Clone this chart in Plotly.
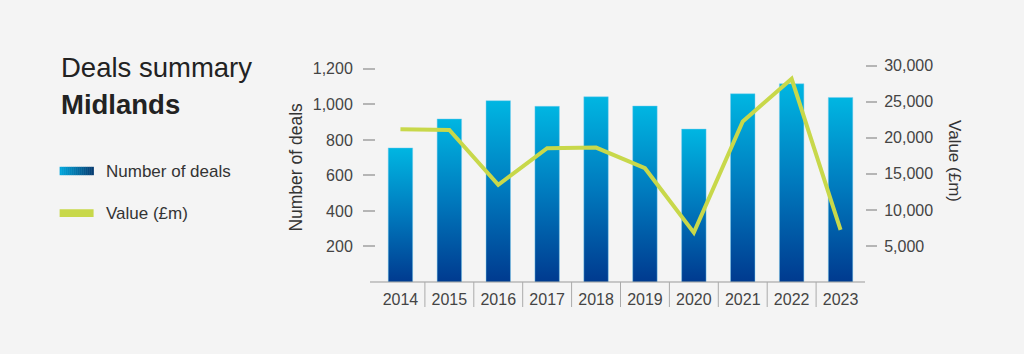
import plotly.graph_objects as go

# ---- data ----
years = ["2014", "2015", "2016", "2017", "2018", "2019", "2020", "2021", "2022", "2023"]
deals = [755, 918, 1021, 989, 1043, 991, 861, 1060, 1116, 1039]
value_gbp_m = [21200, 21100, 13470, 18570, 18650, 15790, 6850, 22270, 28190, 7220]
left_ticks = [200, 400, 600, 800, 1000, 1200]
right_ticks = [5000, 10000, 15000, 20000, 25000, 30000]

# ---- styles ----
FONT = "Liberation Sans, Arial, Helvetica, sans-serif"
BG = "#f4f4f4"
BAR_BOTTOM = "#003a8f"
BAR_MID = "#0079bd"
BAR_TOP = "#00b6e2"
LINE_COLOR = "#c8d84a"
TEXT = "#333333"
TICK_TEXT = "#444444"
GRID_GREY = "#aaaaaa"

W, H = 1024, 354
L, R, T, B = 376, 158.5, 60, 72
plot_w = W - L - R
plot_h = H - T - B

fig = go.Figure()

half = 0.25
for i, v in enumerate(deals):
    fig.add_trace(go.Scatter(
        x=[i - half, i - half, i + half, i + half, i - half],
        y=[0, v, v, 0, 0],
        fill="toself",
        mode="lines",
        line=dict(width=0.8, color="rgba(120,205,240,0.55)"),
        fillgradient=dict(type="vertical", start=0, stop=v,
                          colorscale=[[0, BAR_BOTTOM], [0.5, BAR_MID], [1, BAR_TOP]]),
        showlegend=False,
        hoverinfo="skip",
        yaxis="y",
    ))

fig.add_trace(go.Scatter(
    x=list(range(len(years))),
    y=value_gbp_m,
    mode="lines",
    line=dict(color=LINE_COLOR, width=4),
    yaxis="y2",
    showlegend=False,
    name="Value (£m)",
))

fig.update_layout(
    width=W, height=H, autosize=False,
    margin=dict(l=L, r=R, t=T, b=B, pad=0),
    paper_bgcolor=BG, plot_bgcolor=BG,
    font=dict(family=FONT, size=16, color=TICK_TEXT),
    xaxis=dict(
        range=[-0.5, len(years) - 0.5],
        tickvals=list(range(len(years))), ticktext=years,
        showgrid=False, zeroline=False, showline=False, ticks="",
        ticklabelstandoff=6,
        tickfont=dict(size=16, color=TICK_TEXT),
    ),
    yaxis=dict(
        range=[0, 1250], tickvals=left_ticks, tickformat=",",
        showgrid=False, zeroline=False, showline=False,
        ticks="outside", ticklen=12, tickwidth=1.5, tickcolor="#b5b5b5",
        ticklabelstandoff=7,
        tickfont=dict(size=16, color=TICK_TEXT),
    ),
    yaxis2=dict(
        range=[0, 30800], tickvals=right_ticks, tickformat=",",
        overlaying="y", side="right",
        showgrid=False, zeroline=False, showline=False,
        ticks="outside", ticklen=11, tickwidth=1.5, tickcolor="#b5b5b5",
        ticklabelstandoff=4,
        tickfont=dict(size=16, color=TICK_TEXT),
    ),
)

def px_x(px):
    return (px - L) / plot_w

def px_y(py):
    return (H - B - py) / plot_h

shapes = []
# baseline
shapes.append(dict(type="line", xref="paper", yref="paper",
                   x0=px_x(370), x1=1.0, y0=0, y1=0,
                   line=dict(color="#999999", width=1)))
# category dividers
for i in range(len(years) - 1):
    shapes.append(dict(type="line", xref="x", yref="paper",
                       x0=i + 0.5, x1=i + 0.5, y0=0, y1=px_y(307),
                       line=dict(color=GRID_GREY, width=1)))

# legend swatches
def hexrgb(h):
    h = h.lstrip("#")
    return tuple(int(h[k:k + 2], 16) for k in (0, 2, 4))

c0, c1 = hexrgb("#00a6dc"), hexrgb("#063d72")
nseg = 17
sx0, sx1 = 59.3, 93.3
for k in range(nseg):
    t = k / (nseg - 1)
    col = "rgb(%d,%d,%d)" % tuple(round(c0[j] + (c1[j] - c0[j]) * t) for j in range(3))
    a = sx0 + (sx1 - sx0) * k / nseg
    b = sx0 + (sx1 - sx0) * (k + 1) / nseg + 0.3
    shapes.append(dict(type="rect", xref="paper", yref="paper",
                       x0=px_x(a), x1=px_x(b), y0=px_y(175.2), y1=px_y(166.8),
                       line=dict(width=0), fillcolor=col, layer="above"))
shapes.append(dict(type="rect", xref="paper", yref="paper",
                   x0=px_x(sx0), x1=px_x(sx1), y0=px_y(217), y1=px_y(209.2),
                   line=dict(width=0), fillcolor=LINE_COLOR))
fig.update_layout(shapes=shapes)

annotations = [
    dict(text="Deals summary", x=px_x(59), y=px_y(68), xanchor="left", yanchor="middle",
         font=dict(size=27.5, color="#222222", family=FONT)),
    dict(text="<b>Midlands</b>", x=px_x(59), y=px_y(104.5), xanchor="left", yanchor="middle",
         font=dict(size=27.5, color="#222222", family=FONT)),
    dict(text="Number of deals", x=px_x(104), y=px_y(171.3), xanchor="left", yanchor="middle",
         font=dict(size=17, color=TEXT, family=FONT)),
    dict(text="Value (£m)", x=px_x(104), y=px_y(213.5), xanchor="left", yanchor="middle",
         font=dict(size=17, color=TEXT, family=FONT)),
    dict(text="Number of deals", x=px_x(295.5), y=px_y(167), xanchor="center", yanchor="middle",
         textangle=-90, font=dict(size=17.5, color=TEXT, family=FONT)),
    dict(text="Value (£m)", x=px_x(955.5), y=px_y(161), xanchor="center", yanchor="middle",
         textangle=90, font=dict(size=17, color=TEXT, family=FONT)),
]
for a in annotations:
    a.update(xref="paper", yref="paper", showarrow=False)
fig.update_layout(annotations=annotations)

fig.write_html("out.html")
